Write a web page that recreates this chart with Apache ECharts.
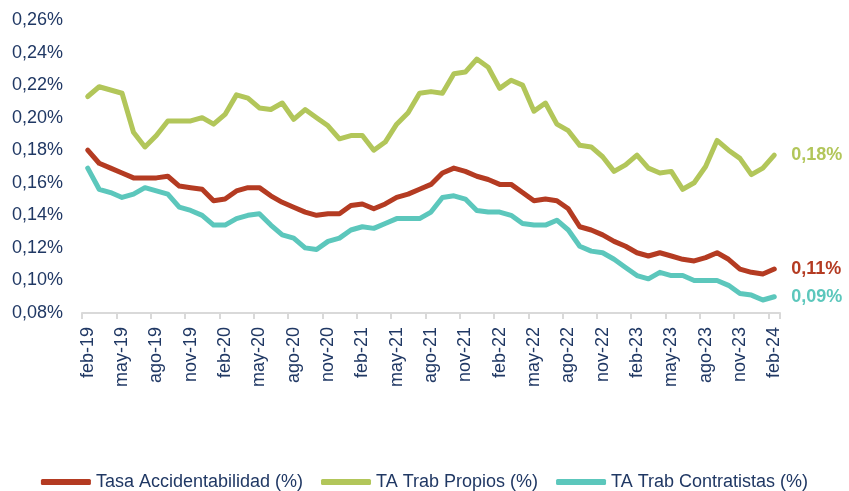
<!DOCTYPE html>
<html>
<head>
<meta charset="utf-8">
<script src="https://cdn.jsdelivr.net/npm/echarts@6/dist/echarts.min.js"></script>
<style>
  html, body { margin: 0; padding: 0; background: #fff; }
  #chart { width: 849px; height: 491px; }
</style>
</head>
<body>
<div id="chart"></div>
<script>
// meses feb-19 .. feb-24
var meses = [
    'feb-19','mar-19','abr-19','may-19','jun-19','jul-19','ago-19','sep-19','oct-19','nov-19','dic-19','ene-20',
    'feb-20','mar-20','abr-20','may-20','jun-20','jul-20','ago-20','sep-20','oct-20','nov-20','dic-20','ene-21',
    'feb-21','mar-21','abr-21','may-21','jun-21','jul-21','ago-21','sep-21','oct-21','nov-21','dic-21','ene-22',
    'feb-22','mar-22','abr-22','may-22','jun-22','jul-22','ago-22','sep-22','oct-22','nov-22','dic-22','ene-23',
    'feb-23','mar-23','abr-23','may-23','jun-23','jul-23','ago-23','sep-23','oct-23','nov-23','dic-23','ene-24',
    'feb-24'
];

var tasaAccidentabilidad = [
    0.180,0.172,0.169,0.166,0.163,0.163,0.163,0.164,0.158,0.157,
    0.156,0.149,0.150,0.155,0.157,0.157,0.152,0.148,0.145,0.142,
    0.140,0.141,0.141,0.146,0.147,0.144,0.147,0.151,0.153,0.156,
    0.159,0.166,0.169,0.167,0.164,0.162,0.159,0.159,0.154,0.149,
    0.150,0.149,0.144,0.133,0.131,0.128,0.124,0.121,0.117,0.115,
    0.117,0.115,0.113,0.112,0.114,0.117,0.113,0.107,0.105,0.104,
    0.107
];

var trabPropios = [
    0.213,0.219,0.217,0.215,0.191,0.182,0.189,0.198,0.198,0.198,
    0.200,0.196,0.202,0.214,0.212,0.206,0.205,0.209,0.199,0.205,
    0.200,0.195,0.187,0.189,0.189,0.180,0.185,0.196,0.203,0.215,
    0.216,0.215,0.227,0.228,0.236,0.231,0.218,0.223,0.220,0.204,
    0.209,0.196,0.192,0.183,0.182,0.176,0.167,0.171,0.177,0.169,
    0.166,0.167,0.156,0.160,0.170,0.186,0.180,0.175,0.165,0.169,
    0.177
];

var trabContratistas = [
    0.169,0.156,0.154,0.151,0.153,0.157,0.155,0.153,0.145,0.143,
    0.140,0.134,0.134,0.138,0.140,0.141,0.134,0.128,0.126,0.120,
    0.119,0.124,0.126,0.131,0.133,0.132,0.135,0.138,0.138,0.138,
    0.142,0.151,0.152,0.150,0.143,0.142,0.142,0.140,0.135,0.134,
    0.134,0.137,0.131,0.121,0.118,0.117,0.113,0.108,0.103,0.101,
    0.105,0.103,0.103,0.100,0.100,0.100,0.097,0.092,0.091,0.088,
    0.090
];

var colores = ['#B43B22', '#B2C65A', '#5CC7BC'];
var azul = '#203864';
var fuente = '"Liberation Sans", Arial, sans-serif';

function pct(v) {
    return Number(v).toFixed(2).replace('.', ',') + '%';
}

function serie(nombre, datos, color) {
    return {
        name: nombre,
        type: 'line',
        data: datos,
        symbol: 'none',
        color: color,
        lineStyle: { width: 5, color: color, join: 'round', cap: 'round' },
        endLabel: {
            show: true,
            distance: 17,
            color: color,
            fontFamily: fuente,
            fontSize: 18,
            fontWeight: 'bold',
            formatter: function (p) { return pct(p.value); }
        }
    };
}

var chart = echarts.init(document.getElementById('chart'));

var option = {
    animation: false,
    backgroundColor: '#fff',
    grid: {
        left: 82,
        right: 69,
        top: 20,
        bottom: 178,
        containLabel: false,
        outerBoundsMode: 'none'
    },
    legend: {
        left: 'center',
        top: 471,
        padding: 0,
        icon: 'roundRect',
        itemWidth: 50,
        itemHeight: 6,
        itemGap: 18,
        textStyle: { color: azul, fontFamily: fuente, fontSize: 18, lineHeight: 22 },
        data: ['Tasa Accidentabilidad (%)', 'TA Trab Propios (%)', 'TA Trab Contratistas (%)']
    },
    xAxis: {
        type: 'category',
        data: meses,
        boundaryGap: true,
        axisLine: { lineStyle: { color: '#D9D9D9', width: 2 } },
        axisTick: { show: true, interval: 2, length: 6, lineStyle: { color: '#D9D9D9', width: 2 } },
        axisLabel: {
            interval: 2,
            rotate: 90,
            margin: 14,
            color: azul,
            fontFamily: fuente,
            fontSize: 18
        },
        splitLine: { show: false }
    },
    yAxis: {
        type: 'value',
        min: 0.08,
        max: 0.26,
        interval: 0.02,
        axisLine: { show: false },
        axisTick: { show: false },
        splitLine: { show: false },
        axisLabel: {
            margin: 19,
            color: azul,
            fontFamily: fuente,
            fontSize: 18,
            formatter: pct
        }
    },
    series: [
        serie('Tasa Accidentabilidad (%)', tasaAccidentabilidad, colores[0]),
        serie('TA Trab Propios (%)', trabPropios, colores[1]),
        serie('TA Trab Contratistas (%)', trabContratistas, colores[2])
    ]
};

chart.setOption(option);
</script>
</body>
</html>
